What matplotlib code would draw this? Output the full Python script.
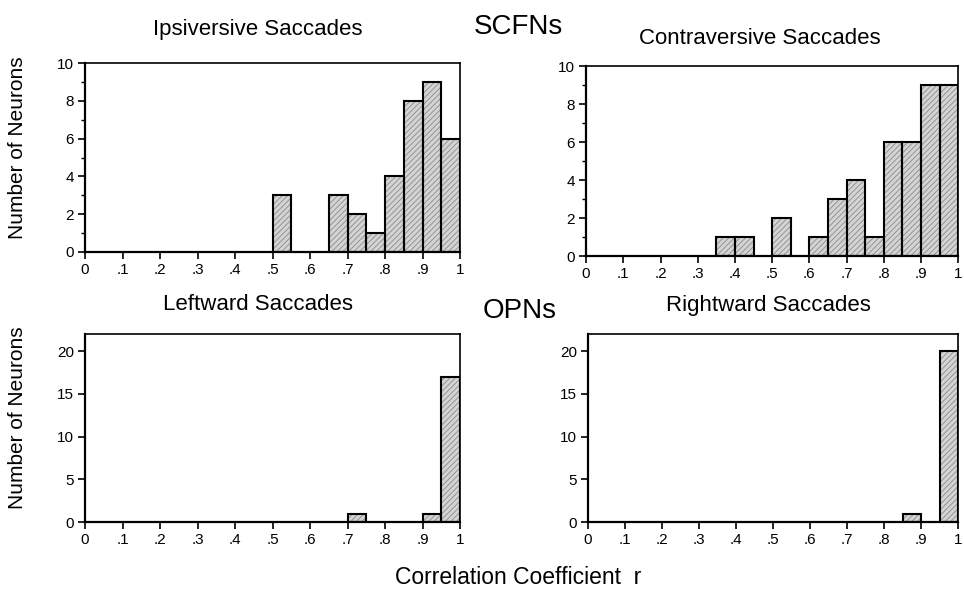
import numpy as np
import matplotlib
matplotlib.use("Agg")
import matplotlib.pyplot as plt

plt.rcParams["font.family"] = ["Liberation Sans", "DejaVu Sans"]
plt.rcParams["hatch.linewidth"] = 0.6

# correlation coefficient bins, 0.05 wide, 0 .. 1
bin_starts = [0.00, 0.05, 0.10, 0.15, 0.20, 0.25, 0.30, 0.35, 0.40, 0.45,
              0.50, 0.55, 0.60, 0.65, 0.70, 0.75, 0.80, 0.85, 0.90, 0.95]
bin_width = 0.05

# neuron counts per bin
scfn_ipsi = [0, 0, 0, 0, 0, 0, 0, 0, 0, 0, 3, 0, 0, 3, 2, 1, 4, 8, 9, 6]
scfn_contra = [0, 0, 0, 0, 0, 0, 0, 1, 1, 0, 2, 0, 1, 3, 4, 1, 6, 6, 9, 9]
opn_left = [0, 0, 0, 0, 0, 0, 0, 0, 0, 0, 0, 0, 0, 0, 1, 0, 0, 0, 1, 17]
opn_right = [0, 0, 0, 0, 0, 0, 0, 0, 0, 0, 0, 0, 0, 0, 0, 0, 0, 1, 0, 20]

panel_titles = ["Ipsiversive Saccades", "Contraversive Saccades",
                "Leftward Saccades", "Rightward Saccades"]
tick_labels = ["0", ".1", ".2", ".3", ".4", ".5", ".6", ".7", ".8", ".9", "1"]

W, H = 964, 590
fig = plt.figure(figsize=(W / 100, H / 100), dpi=100)
ax_tl = fig.add_axes([0.0882, 0.573, 0.389, 0.320])
ax_tr = fig.add_axes([0.608, 0.566, 0.386, 0.322])
ax_bl = fig.add_axes([0.0882, 0.115, 0.389, 0.319])
ax_br = fig.add_axes([0.610, 0.115, 0.384, 0.319])

panels = [(ax_tl, scfn_ipsi, 10, 2), (ax_tr, scfn_contra, 10, 2),
          (ax_bl, opn_left, 22, 5), (ax_br, opn_right, 22, 5)]
# title centres in pixels from the top-left corner
title_xy = [(258, 30), (760, 38), (258, 305), (768, 305)]

for (ax, counts, ymax, ystep), title, (tx, ty) in zip(panels, panel_titles, title_xy):
    counts = np.array(counts)
    keep = counts > 0
    lefts = np.array(bin_starts)[keep]
    # gray hatched fill, then a black outline on top
    ax.bar(lefts, counts[keep], width=bin_width, align="edge",
           facecolor="#d4d4d4", edgecolor="#8a8a8a", hatch="//////", linewidth=0)
    ax.bar(lefts, counts[keep], width=bin_width, align="edge",
           facecolor="none", edgecolor="black", linewidth=1.5)
    ax.set_xlim(0, 1)
    ax.set_ylim(0, ymax)
    ax.set_xticks(np.linspace(0, 1, 11))
    ax.set_xticklabels(tick_labels)
    ax.set_yticks(np.arange(0, ymax + 1, ystep))
    if ystep == 2:
        ax.set_yticks(np.arange(1, ymax, 2), minor=True)
    ax.tick_params(axis="both", which="major", direction="out", length=5,
                   width=1.2, labelsize=11, pad=3)
    ax.tick_params(axis="y", which="minor", direction="out", length=3, width=1)
    for side in ["left", "bottom"]:
        ax.spines[side].set_linewidth(1.6)
    for side in ["top", "right"]:
        ax.spines[side].set_linewidth(1.2)
    fig.text(tx / W, 1 - ty / H, title, fontsize=16, ha="center", va="center")

fig.text(518 / W, 1 - 27 / H, "SCFNs", fontsize=20, ha="center", va="center")
fig.text(520 / W, 1 - 311 / H, "OPNs", fontsize=20, ha="center", va="center")
fig.text(18 / W, 1 - 148 / H, "Number of Neurons", fontsize=15, rotation=90,
         ha="center", va="center")
fig.text(18 / W, 1 - 418 / H, "Number of Neurons", fontsize=15, rotation=90,
         ha="center", va="center")
fig.text(518 / W, 1 - 577 / H, "Correlation Coefficient  r", fontsize=16.5,
         ha="center", va="center")

fig.savefig("out.png", dpi=100)
